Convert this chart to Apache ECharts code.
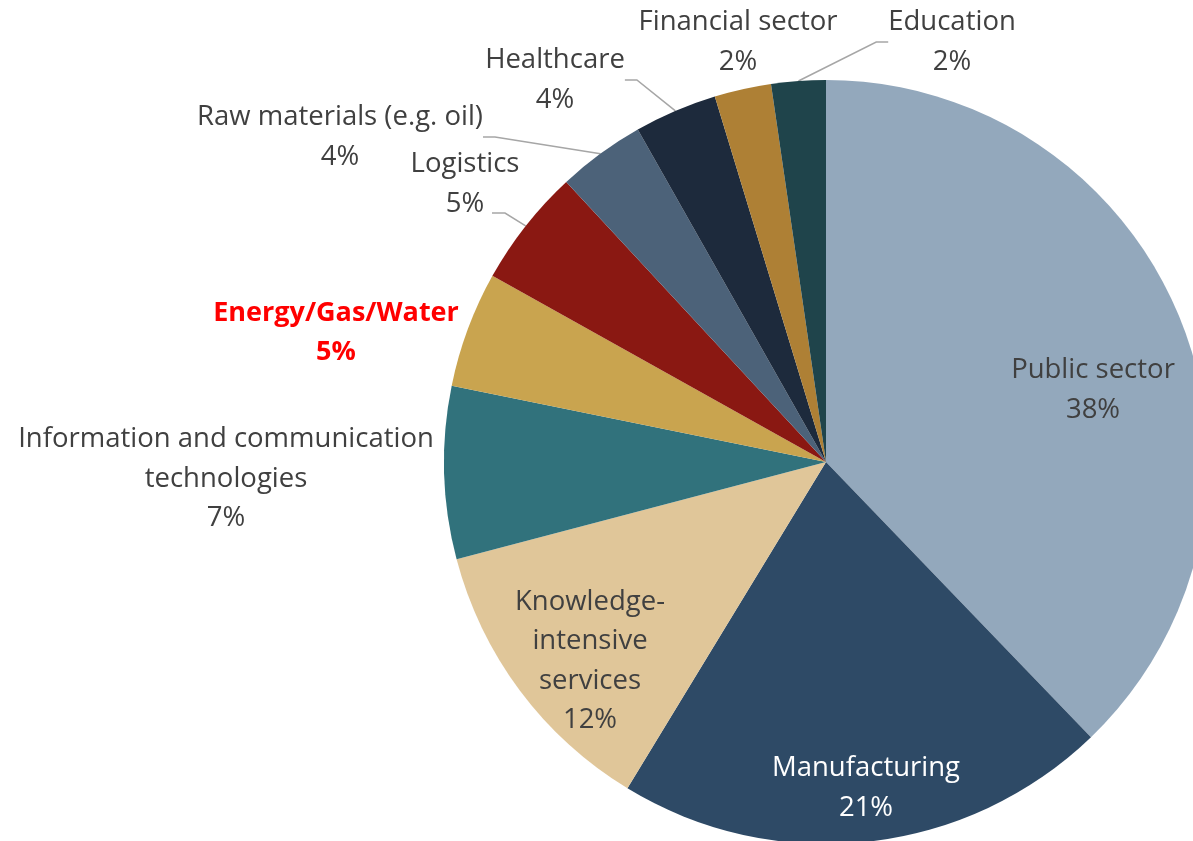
<!DOCTYPE html>
<html>
<head>
<meta charset="utf-8">
<script src="https://cdn.jsdelivr.net/npm/echarts@6/dist/echarts.min.js"></script>
<style>html,body{margin:0;padding:0;background:#fff}#c{width:1193px;height:841px}</style>
</head>
<body>
<div id="c"></div>
<script>
// Data (clockwise from 12 o'clock)
const categories = ['Public sector', 'Manufacturing', 'Knowledge-\nintensive\nservices', 'Information and communication\ntechnologies', 'Energy/Gas/Water', 'Logistics', 'Raw materials (e.g. oil)', 'Healthcare', 'Financial sector', 'Education'];
const shares = [37.8, 20.9, 12.2, 7.3, 4.9, 5.0, 3.7, 3.5, 2.4, 2.3];
const shareLabels = ['38%', '21%', '12%', '7%', '5%', '5%', '4%', '4%', '2%', '2%'];

// Styling
const colors = ['#93A8BC', '#2E4A66', '#E0C699', '#31727C', '#C9A44F', '#8A1812', '#4C6279', '#1D2A3C', '#AE8035', '#1F444B'];
const labelPos = [[1093, 390], [866, 788], [590, 661], [226, 479], [336, 333], [465, 184], [340, 137], [555, 80], [738, 42], [952, 42]];
const showLine = [false, false, false, false, false, true, true, true, false, true];
const FONT = '"Open Sans", Lato, sans-serif';

const data = categories.map((name, i) => ({
  name: name,
  value: shares[i],
  itemStyle: { color: colors[i] },
  label: {
    formatter: name + '\n' + shareLabels[i],
    color: i === 1 ? '#ffffff' : (i === 4 ? '#FF0000' : '#404040'),
    fontWeight: i === 4 ? 'bold' : 'normal',
    fontSize: i === 4 ? 27 : 27.5
  },
  labelLine: { show: showLine[i] }
}));

const chart = echarts.init(document.getElementById('c'), null, { renderer: 'canvas' });
chart.setOption({
  animation: false,
  backgroundColor: '#ffffff',
  series: [{
    type: 'pie',
    center: [826, 462],
    radius: 382,
    startAngle: 90,
    clockwise: true,
    avoidLabelOverlap: false,
    data: data,
    label: {
      show: true,
      position: 'outside',
      fontFamily: FONT,
      fontSize: 27.5,
      lineHeight: 39.5,
      align: 'center'
    },
    labelLine: {
      show: true,
      length: 15,
      length2: 12,
      lineStyle: { color: '#A6A6A6', width: 1.5 }
    },
    labelLayout: function (params) {
      const p = labelPos[params.dataIndex];
      const out = { x: p[0], y: p[1], align: 'center', verticalAlign: 'middle' };
      // Logistics: leader line enters from the right of the "5%" line
      if (params.dataIndex === 5 && params.labelLinePoints && params.labelLinePoints[0]) {
        const s = params.labelLinePoints[0];
        out.labelLinePoints = [[s[0], s[1]], [p[0] + 40, p[1] + 29], [p[0] + 27, p[1] + 29]];
      }
      return out;
    }
  }]
});
</script>
</body>
</html>
